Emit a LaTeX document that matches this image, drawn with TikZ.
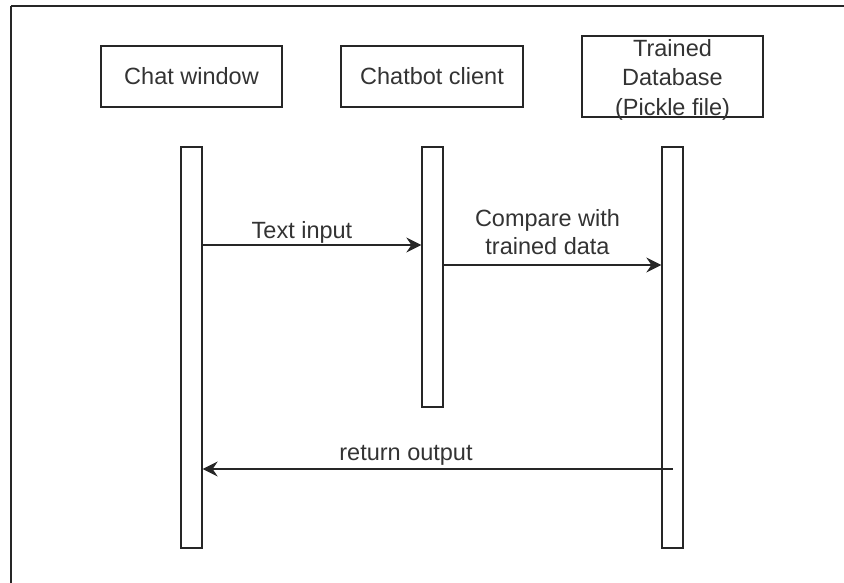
\documentclass[tikz,border=0pt]{standalone}
\usepackage{fontspec}
\setmainfont{Liberation Sans}
\usetikzlibrary{arrows.meta}

\tikzset{
  ink/.style={draw=black!85, line width=1.3pt},
  header/.style={ink, rectangle, inner sep=0pt, align=center,
    font=\fontsize{23.5}{29}\selectfont, text=black!80},
  bar/.style={ink, rectangle, inner sep=0pt, minimum width=21pt},
  msg/.style={ink, -{Stealth[length=15pt, width=15pt, inset=5pt]}},
  msglabel/.style={inner sep=0pt, align=center,
    font=\fontsize{23.5}{28}\selectfont, text=black!80},
}

\begin{document}
\begin{tikzpicture}[x=1pt, y=-1pt]
  \useasboundingbox (0,0) rectangle (844,583);

  % page frame (top and left edges)
  \draw[ink] (11,6) -- (844,6);
  \draw[ink] (11,6) -- (11,583);

  % participant headers
  \node[header, minimum width=181pt, minimum height=61pt] (chat)   at (191.5,76.5) {Chat window};
  \node[header, minimum width=182pt, minimum height=61pt] (client) at (432,76.5)   {Chatbot client};
  \node[header, minimum width=181pt, minimum height=81pt] (db)     at (672.5,76.5) {};
  \node[header, draw=none, font=\fontsize{23.5}{29.5}\selectfont]
    (dbtext) at ([yshift=-3pt]db.center) {Trained\\Database\\(Pickle file)};

  % activation bars
  \node[bar, minimum height=401pt] (chatbar)   at (191.5,347.5) {};
  \node[bar, minimum height=260pt] (clientbar) at (432.5,277)   {};
  \node[bar, minimum height=401pt] (dbbar)     at (672.5,347.5) {};

  % messages
  \draw[msg] (chatbar.east |- 0,245) -- (clientbar.west |- 0,245);
  \node[msglabel] (l1) at (302,232) {Text input};

  \draw[msg] (clientbar.east |- 0,265) -- (dbbar.west |- 0,265);
  \node[msglabel] (l2) at (547.5,232) {Compare with\\trained data};

  \draw[msg] (dbbar.center |- 0,469) -- (chatbar.east |- 0,469);
  \node[msglabel] (l3) at (406,455) {return output};
\end{tikzpicture}
\end{document}
